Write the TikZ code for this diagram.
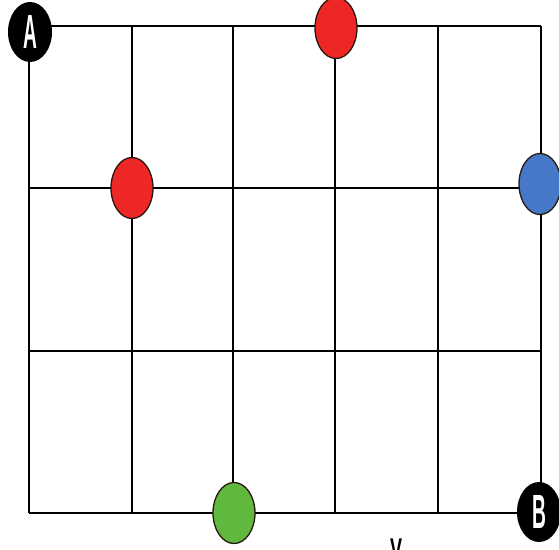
\documentclass[tikz,border=0pt]{standalone}
\usepackage{fontspec}
\setmainfont{Liberation Sans}
\usetikzlibrary{shapes.geometric}
\definecolor{dotred}{RGB}{238,38,38}
\definecolor{dotblue}{RGB}{70,120,200}
\definecolor{dotgreen}{RGB}{96,184,62}
\begin{document}
\begin{tikzpicture}[x=1pt,y=-1pt,
  gridline/.style={line width=1.5pt,black},
  dot/.style={ellipse,draw=black!80!brown,line width=1.3pt,minimum width=42pt,minimum height=61pt,inner sep=0pt},
  corner/.style={ellipse,fill=black,minimum width=44pt,minimum height=60pt,inner sep=0pt,text=white,font=\bfseries\fontsize{48}{48}\selectfont}]
\useasboundingbox (0,0) rectangle (559,549);
% grid
\foreach \x in {29,132,233,335,438,541} \draw[gridline] (\x,26) -- (\x,513);
\foreach \y in {26,188,351,513} \draw[gridline] (29,\y) -- (541,\y);
% dots
\node[dot,fill=dotred] (r1) at (336,28) {};
\node[dot,fill=dotred] (r2) at (132,188) {};
\node[dot,fill=dotblue] (b1) at (540,184) {};
\node[dot,fill=dotgreen] (g1) at (234,513) {};
% corners
\node[corner] (A) at (30,32) {\scalebox{0.4}[1]{A}};
\node[corner] (B) at (539,512) {\scalebox{0.4}[1]{B}};
% partial letter at bottom edge
\node[anchor=north,inner sep=0pt,font=\bfseries\fontsize{30}{30}\selectfont] (v) at (396,539) {\scalebox{0.6}[1]{V}};
\end{tikzpicture}
\end{document}
